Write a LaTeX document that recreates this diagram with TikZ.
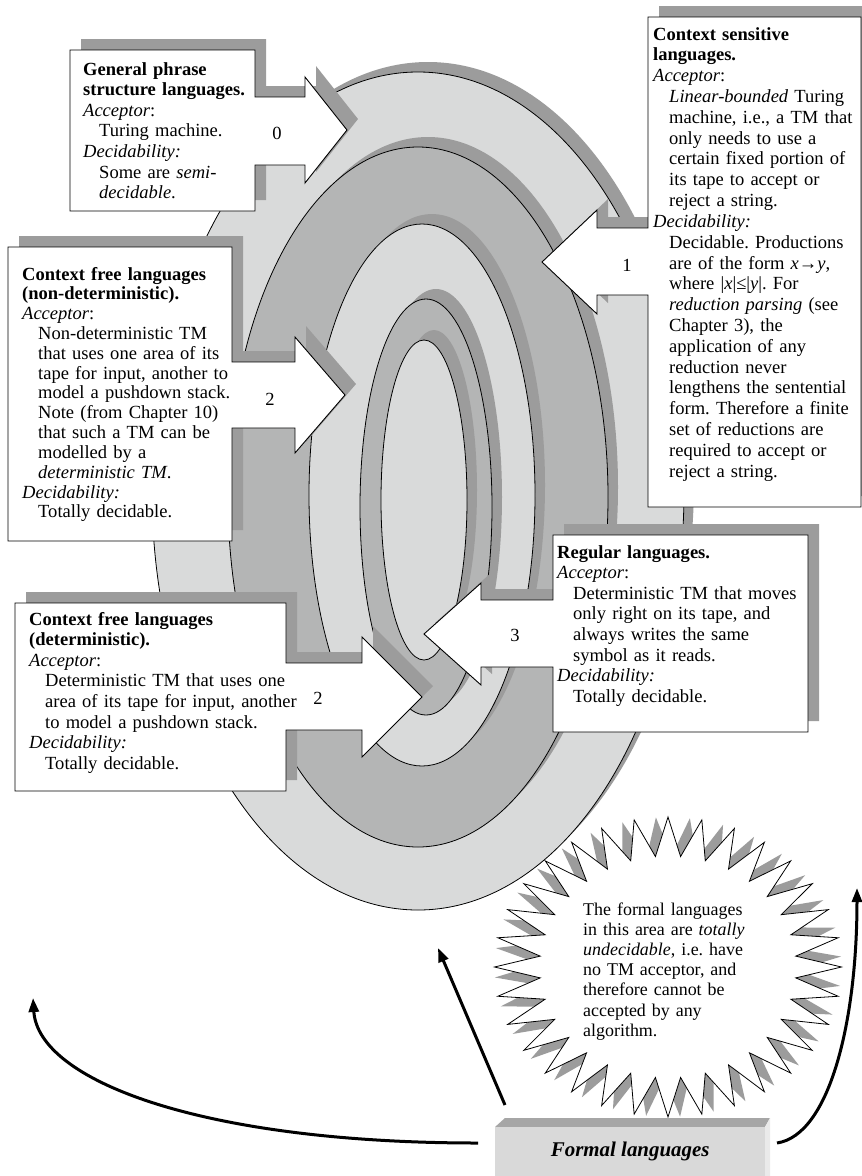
\documentclass[tikz,border=0pt]{standalone}
\usepackage{fontspec}
\setmainfont{Liberation Serif}
\usetikzlibrary{arrows.meta}
\definecolor{ringlight}{RGB}{217,218,218}
\definecolor{ringmid}{RGB}{180,181,181}
\definecolor{shadowgrey}{RGB}{156,156,156}
\definecolor{fltop}{RGB}{166,166,166}
\definecolor{flfront}{RGB}{217,217,217}
\definecolor{flside}{RGB}{234,234,234}
\newcommand{\indln}{\hspace*{16bp}}
\newcommand{\boxfont}{\fontsize{18.6}{20.7}\selectfont\frenchspacing}
\newcommand{\widefont}{\fontsize{18.6}{20.9}\selectfont\frenchspacing}
\newcommand{\tightfont}{\fontsize{18.6}{19.9}\selectfont\frenchspacing}
\newcommand{\starfont}{\fontsize{18}{20.3}\selectfont\frenchspacing}

\begin{document}
\begin{tikzpicture}[x=1bp,y=-1bp,
  lightring/.style={fill=ringlight,draw=black,line width=0.8bp},
  midring/.style={fill=ringmid,draw=black,line width=0.8bp},
  ringshadow/.style={fill=shadowgrey},
  calloutshadow/.style={fill=shadowgrey},
  callout/.style={fill=white,draw=black,line width=0.9bp,line join=miter},
  boxtext/.style={anchor=base west,inner sep=0pt,align=left,text width=#1},
  numlabel/.style={inner sep=0pt,font=\boxfont},
  bigarrow/.style={line width=3bp,-{Triangle[length=14bp,width=10bp]}}]

\useasboundingbox (0,0) rectangle (862,1176);
\clip (0,0) rectangle (862,1176);
\fill[white] (0,0) rectangle (862,1176);

% nested rings, each with its shadow offset up and to the right
\fill[ringshadow] (428,481) ellipse [x radius=266, y radius=419];
\filldraw[lightring] (418,491) ellipse [x radius=266, y radius=419];
\fill[ringshadow] (428,487) ellipse [x radius=190, y radius=350];
\filldraw[midring] (418,497) ellipse [x radius=190, y radius=350];
\fill[ringshadow] (432,485) ellipse [x radius=113, y radius=271];
\filldraw[lightring] (422,495) ellipse [x radius=113, y radius=271];
\fill[ringshadow] (436,497) ellipse [x radius=66, y radius=208];
\filldraw[midring] (426,507) ellipse [x radius=66, y radius=208];
\fill[ringshadow] (434,490) ellipse [x radius=43, y radius=160];
\filldraw[lightring] (424,500) ellipse [x radius=43, y radius=160];

% callout shadows
\begin{scope}[shift={(11,-11)}]
\fill[calloutshadow] (70,50) -- (255,50) -- (255,97) -- (305,97) -- (305,77) -- (347,130) -- (305,183) -- (305,165) -- (255,165) -- (255,211) -- (70,211) -- cycle;
\fill[calloutshadow] (861,17) -- (648,17) -- (648,228) -- (597,228) -- (597,210) -- (542,262) -- (597,314) -- (597,295) -- (648,295) -- (648,507) -- (861,507) -- cycle;
\fill[calloutshadow] (8,247) -- (232,247) -- (232,362) -- (295,362) -- (295,337) -- (345,395) -- (295,453) -- (295,428) -- (232,428) -- (232,541) -- (8,541) -- cycle;
\fill[calloutshadow] (15,603) -- (286,603) -- (286,663) -- (362,663) -- (362,637) -- (422,697) -- (362,757) -- (362,730) -- (286,730) -- (286,791) -- (15,791) -- cycle;
\fill[calloutshadow] (808,535) -- (553,535) -- (553,600) -- (481,600) -- (481,583) -- (424,634) -- (481,685) -- (481,667) -- (553,667) -- (553,732) -- (808,732) -- cycle;
\end{scope}

% callouts
\filldraw[callout] (70,50) -- (255,50) -- (255,97) -- (305,97) -- (305,77) -- (347,130) -- (305,183) -- (305,165) -- (255,165) -- (255,211) -- (70,211) -- cycle;
\filldraw[callout] (861,17) -- (648,17) -- (648,228) -- (597,228) -- (597,210) -- (542,262) -- (597,314) -- (597,295) -- (648,295) -- (648,507) -- (861,507) -- cycle;
\filldraw[callout] (8,247) -- (232,247) -- (232,362) -- (295,362) -- (295,337) -- (345,395) -- (295,453) -- (295,428) -- (232,428) -- (232,541) -- (8,541) -- cycle;
\filldraw[callout] (15,603) -- (286,603) -- (286,663) -- (362,663) -- (362,637) -- (422,697) -- (362,757) -- (362,730) -- (286,730) -- (286,791) -- (15,791) -- cycle;
\filldraw[callout] (808,535) -- (553,535) -- (553,600) -- (481,600) -- (481,583) -- (424,634) -- (481,685) -- (481,667) -- (553,667) -- (553,732) -- (808,732) -- cycle;

% callout texts
\node[boxtext=200bp,font=\boxfont] (gps) at (83,75) {%
\textbf{General phrase}\\
\textbf{structure languages.}\\
\textit{Acceptor}:\\
\indln Turing machine.\\
\textit{Decidability:}\\
\indln Some are \textit{semi-}\\
\indln\textit{decidable}.};

\node[boxtext=212bp,font=\widefont] (csl) at (653,40) {%
\textbf{Context sensitive}\\
\textbf{languages.}\\
\textit{Acceptor}:\\
\indln\textit{Linear-bounded} Turing\\
\indln machine, i.e., a TM that\\
\indln only needs to use a\\
\indln certain fixed portion of\\
\indln its tape to accept or\\
\indln reject a string.\\
\textit{Decidability:}\\
\indln Decidable. Productions\\
\indln are of the form \textit{x}→\textit{y},\\
\indln where |\textit{x}|≤|\textit{y}|. For\\
\indln\textit{reduction parsing} (see\\
\indln Chapter 3), the\\
\indln application of any\\
\indln reduction never\\
\indln lengthens the sentential\\
\indln form. Therefore a finite\\
\indln set of reductions are\\
\indln required to accept or\\
\indln reject a string.};

\node[boxtext=230bp,font=\tightfont] (cfn) at (22,280) {%
\textbf{Context free languages}\\
\textbf{(non-deterministic).}\\
\textit{Acceptor}:\\
\indln Non-deterministic TM\\
\indln that uses one area of its\\
\indln tape for input, another to\\
\indln model a pushdown stack.\\
\indln Note (from Chapter 10)\\
\indln that such a TM can be\\
\indln modelled by a\\
\indln\textit{deterministic TM}.\\
\textit{Decidability:}\\
\indln Totally decidable.};

\node[boxtext=275bp,font=\boxfont] (cfd) at (29,625) {%
\textbf{Context free languages}\\
\textbf{(deterministic).}\\
\textit{Acceptor}:\\
\indln Deterministic TM that uses one\\
\indln area of its tape for input, another\\
\indln to model a pushdown stack.\\
\textit{Decidability:}\\
\indln Totally decidable.};

\node[boxtext=255bp,font=\boxfont] (reg) at (557,558) {%
\textbf{Regular languages.}\\
\textit{Acceptor}:\\
\indln Deterministic TM that moves\\
\indln only right on its tape, and\\
\indln always writes the same\\
\indln symbol as it reads.\\
\textit{Decidability:}\\
\indln Totally decidable.};

% level numbers on the arrows
\node[numlabel] (n0) at (277,133) {0};
\node[numlabel] (n1) at (627,265) {1};
\node[numlabel] (n2a) at (270,399) {2};
\node[numlabel] (n2b) at (318,698) {2};
\node[numlabel] (n3) at (515,635) {3};

% starburst with its rotated shadow
\fill[shadowgrey] plot[samples at={0,...,63},variable=\k]
  ({668+173.5*ifthenelse(mod(\k,2)==0,1,0.74)*cos(\k*5.625-4)},
   {967+150*ifthenelse(mod(\k,2)==0,1,0.74)*sin(\k*5.625-4)}) -- cycle;
\filldraw[fill=white,draw=black,line width=0.8bp,line join=miter] plot[samples at={0,...,63},variable=\k]
  ({668+173.5*ifthenelse(mod(\k,2)==0,1,0.74)*cos(\k*5.625)},
   {967+150*ifthenelse(mod(\k,2)==0,1,0.74)*sin(\k*5.625)}) -- cycle;
\node[boxtext=200bp,font=\starfont] (und) at (583,915) {%
The formal languages\\
in this area are \textit{totally}\\
\textit{undecidable}, i.e. have\\
no TM acceptor, and\\
therefore cannot be\\
accepted by any\\
algorithm.};

% bevelled block
\fill[fltop] (495,1127) -- (505,1118) -- (770,1118) -- (765,1127) -- cycle;
\fill[flside] (765,1127) -- (770,1118) -- (770,1176) -- (765,1176) -- cycle;
\node[fill=flfront,minimum width=270bp,minimum height=49bp,inner sep=0pt,anchor=north west,
  font=\fontsize{21}{24}\selectfont\bfseries\itshape] (fl) at (495,1127) {Formal languages};

% arrows from the block
\coordinate (sL) at (478,1143);
\coordinate (tL) at (33,998);
\coordinate (sM) at (505,1105);
\coordinate (tM) at (438,948);
\coordinate (sR) at (777,1143);
\coordinate (tR) at (857,888);
\draw[bigarrow] (sL) .. controls (200,1143) and (38,1080) .. (tL);
\draw[bigarrow] (sM) -- (tM);
\draw[bigarrow] (sR) .. controls (830,1135) and (857,1020) .. (tR);
\end{tikzpicture}
\end{document}
